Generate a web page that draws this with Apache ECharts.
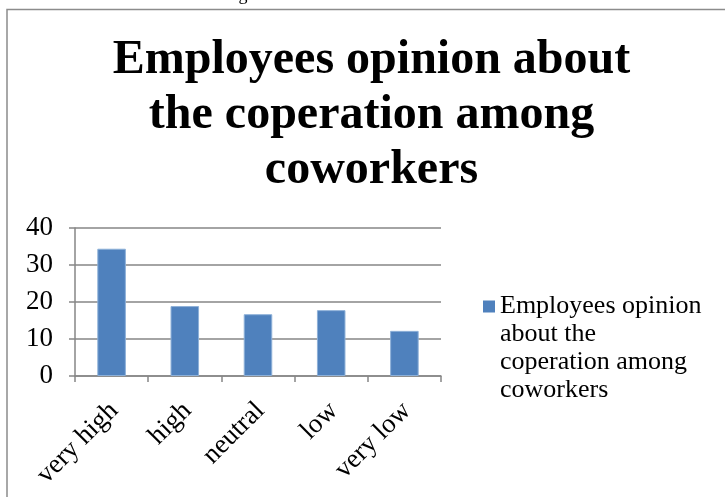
<!DOCTYPE html>
<html>
<head>
<meta charset="utf-8">
<script src="https://cdn.jsdelivr.net/npm/echarts@6/dist/echarts.min.js"></script>
<style>html,body{margin:0;padding:0;background:#fff;}#c{width:725px;height:497px;}</style>
</head>
<body>
<div id="c"></div>
<script>
const categories = ['very high', 'high', 'neutral', 'low', 'very low'];
const values = [34.4, 18.9, 16.7, 17.8, 12.2];
const yTicks = [0, 10, 20, 30, 40];
const seriesName = 'Employees opinion about the coperation among coworkers';
const titleText = 'Employees opinion about\nthe coperation among\ncoworkers';
const legendLines = ['Employees opinion', 'about the', 'coperation among', 'coworkers'];

const FONT = '"Liberation Serif", "Times New Roman", serif';
const axisGray = '#868686';
const LEG_LH = 28;
const chart = echarts.init(document.getElementById('c'));
chart.setOption({
  animation: false,
  backgroundColor: '#fff',
  graphic: [
    { type: 'rect', shape: { x: 7, y: 9.5, width: 800, height: 600 }, style: { fill: 'none', stroke: '#8c8c8c', lineWidth: 1.5 }, silent: true },
    { type: 'text', x: 243, y: -14, style: { text: 'g', font: '18px ' + FONT, fill: '#000', align: 'center', verticalAlign: 'top' }, silent: true }
  ],
  title: {
    text: titleText,
    left: 371.5,
    top: 33,
    padding: 0,
    textAlign: 'center',
    textStyle: { fontFamily: FONT, fontWeight: 'bold', fontSize: 48, lineHeight: 55, color: '#000' }
  },
  legend: {
    left: 483,
    top: 300 + 6.5 - 3.5 * LEG_LH,
    padding: 0,
    icon: 'rect',
    itemWidth: 12,
    itemHeight: 12,
    itemGap: 0,
    textGap: 8,
    orient: 'vertical',
    itemStyle: { borderWidth: 0 },
    formatter: function () {
      // blank lines above keep the first text line level with the marker
      return '\n\n\n' + legendLines.join('\n');
    },
    textStyle: { fontFamily: FONT, fontSize: 26, lineHeight: LEG_LH, color: '#000' },
    data: [seriesName]
  },
  grid: { left: 75, right: 284, top: 228, bottom: 121, containLabel: false },
  xAxis: {
    type: 'category',
    data: categories,
    boundaryGap: true,
    axisLine: { lineStyle: { color: axisGray, width: 1.5 } },
    axisTick: { show: true, length: 6, lineStyle: { color: axisGray, width: 1.5 } },
    axisLabel: { interval: 0, rotate: 45, margin: 14, padding: [0, 10, 0, 0], align: 'right', verticalAlign: 'top', fontFamily: FONT, fontSize: 27, color: '#000' }
  },
  yAxis: {
    type: 'value',
    min: yTicks[0],
    max: yTicks[yTicks.length - 1],
    interval: 10,
    axisLine: { show: true, lineStyle: { color: axisGray, width: 1.5 } },
    axisTick: { show: true, length: 6, lineStyle: { color: axisGray, width: 1.5 } },
    splitLine: { show: true, lineStyle: { color: axisGray, width: 1.5 } },
    axisLabel: { margin: 22, fontFamily: FONT, fontSize: 27, color: '#000' }
  },
  series: [{
    name: seriesName,
    type: 'bar',
    data: values,
    barWidth: '39%',
    itemStyle: { color: '#4F81BD', borderColor: '#8db0d8', borderWidth: 1 }
  }]
});
</script>
</body>
</html>
